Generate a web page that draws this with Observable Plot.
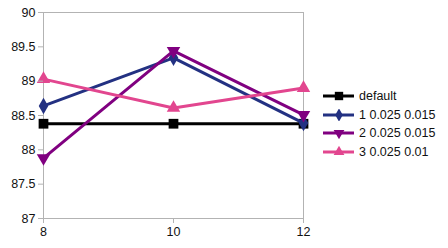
<!DOCTYPE html>
<html><head><meta charset="utf-8">
<script src="https://cdn.jsdelivr.net/npm/d3@7"></script>
<script src="https://cdn.jsdelivr.net/npm/@observablehq/plot@0.6"></script>
<style>
html,body{margin:0;padding:0;background:#fff;}
#wrap{position:relative;width:448px;height:248px;font-family:"Liberation Sans",Arial,sans-serif;}
#legend{position:absolute;left:323px;top:87px;font-size:12.5px;color:#111;}
.row{display:flex;align-items:center;height:18.6px;}
.row svg{margin-right:4px;}
</style></head>
<body><div id="wrap"><div id="legend"></div></div>
<script>
const xs = [8, 10, 12];
const seriesNames = ["default", "1 0.025 0.015", "2 0.025 0.015", "3 0.025 0.01"];
const sDefault = [88.38, 88.38, 88.38];
const s1 = [88.64, 89.34, 88.39];
const s2 = [87.88, 89.44, 88.51];
const s3 = [89.03, 88.61, 88.90];
const colors = ["#000000", "#233182", "#800080", "#e2468f"];
const symbols = ["square", "diamond", "triangle", "triangle"];
const rotates = [0, 0, 180, 0];
const yTicks = [87, 87.5, 88, 88.5, 89, 89.5, 90];

const allVals = [sDefault, s1, s2, s3];
const data = [];
allVals.forEach((vals, i) => xs.forEach((x, j) => data.push({x, y: vals[j], s: seriesNames[i], i})));

const marks = [Plot.frame({stroke: "#b3b3b3"})];
seriesNames.forEach((name, i) => {
  const d = data.filter(r => r.i === i);
  marks.push(Plot.line(d, {x: "x", y: "y", stroke: colors[i], strokeWidth: 3}));
  marks.push(Plot.dot(d, {x: "x", y: "y", fill: colors[i], stroke: "none", symbol: symbols[i], r: i === 0 ? 5.5 : 5, rotate: rotates[i]}));
});
marks.push(Plot.axisY({ticks: yTicks, tickSize: 5, tickPadding: 3, stroke: "#b3b3b3", label: null, tickFormat: d => String(d)}));
marks.push(Plot.axisX({ticks: xs, tickSize: 5, tickPadding: 4, stroke: "#b3b3b3", label: null, tickFormat: d => String(d)}));

const chart = Plot.plot({
  width: 448, height: 248,
  marginLeft: 43, marginTop: 12, marginBottom: 30, marginRight: 145,
  style: {fontFamily: "Liberation Sans, Arial, sans-serif", fontSize: "12.5px", color: "#111", background: "#fff"},
  x: {domain: [8, 12], label: null},
  y: {domain: [87, 90], label: null},
  marks
});
document.getElementById("wrap").prepend(chart);

const legend = document.getElementById("legend");
seriesNames.forEach((name, i) => {
  const row = document.createElement("div");
  row.className = "row";
  const svg = d3.create("svg").attr("width", 32).attr("height", 12);
  svg.append("line").attr("x1", 0).attr("x2", 31).attr("y1", 6).attr("y2", 6).attr("stroke", colors[i]).attr("stroke-width", 3);
  const sym = d3.symbol().type(i === 0 ? d3.symbolSquare : i === 1 ? d3.symbolDiamond : d3.symbolTriangle).size(i === 0 ? 70 : 50);
  svg.append("path").attr("d", sym()).attr("fill", colors[i]).attr("transform", `translate(16,6) rotate(${rotates[i]})`);
  row.appendChild(svg.node());
  const span = document.createElement("span");
  span.textContent = name;
  row.appendChild(span);
  legend.appendChild(row);
});
</script></body></html>
